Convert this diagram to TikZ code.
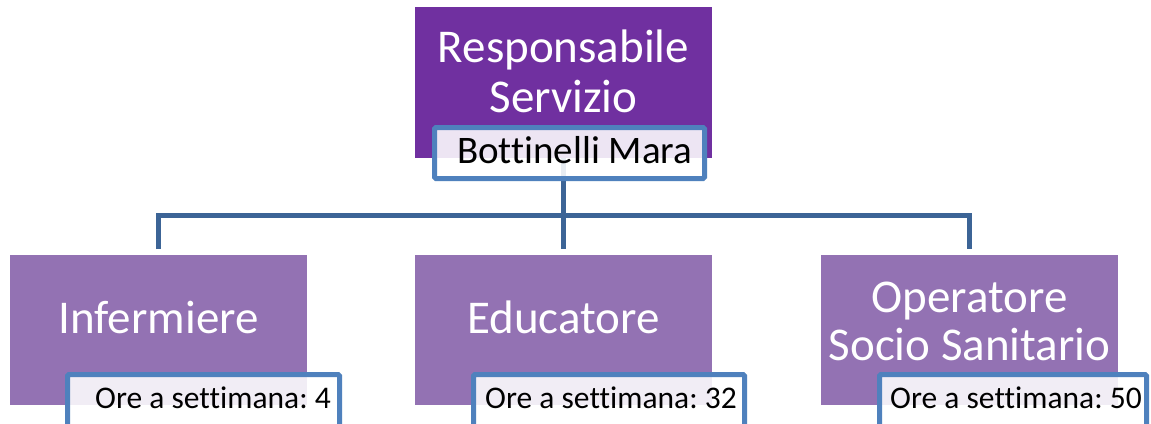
\documentclass[tikz,border=0pt]{standalone}
\usepackage{fontspec}
\setmainfont{Carlito}[Ligatures=NoCommon]
\frenchspacing
\definecolor{topP}{RGB}{112,48,160}
\definecolor{botP}{RGB}{147,114,179}
\definecolor{brd}{RGB}{79,129,189}
\definecolor{connc}{RGB}{60,100,150}
\begin{document}
\begin{tikzpicture}[x=1pt,y=-1pt,
  rolebox/.style={draw=none, inner sep=0pt, outer sep=0pt, minimum width=297pt},
  namebox/.style={draw=brd, line width=5pt, fill=white, fill opacity=0.88, draw opacity=1,
    rounded corners=1.5pt, inner sep=0pt, outer sep=0pt},
  roletext/.style={text=white, inner sep=0pt, anchor=base, font=\fontsize{47}{50}\selectfont},
  nametext/.style={text=black, inner sep=0pt, anchor=base west},
  connline/.style={draw=connc, line width=5pt, line join=miter}
]
\useasboundingbox (0,0) rectangle (1151,423);
\clip (0,0) rectangle (1151,423);
\fill[white] (0,0) rectangle (1151,423);

% role boxes
\node[rolebox, fill=topP, minimum height=151pt] (resp) at (563.5,82.5) {};
\node[rolebox, fill=botP, minimum height=150pt] (inf) at (158.5,330) {};
\node[rolebox, fill=botP, minimum height=150pt] (edu) at (563.5,330) {};
\node[rolebox, fill=botP, minimum height=150pt] (oss) at (969.5,330) {};

% connectors
\coordinate (bus) at (563.5,215.5);
\draw[connline, shorten >=6pt] (resp.south) -- (edu.north);
\draw[connline, shorten <=6pt, shorten >=6pt] (inf.north) |- (bus) -| (oss.north);

% name boxes
\node[namebox, minimum width=270pt, minimum height=51pt] (bot) at (569.5,153) {};
\node[namebox, minimum width=272pt, minimum height=100pt] (oinf) at (203.5,424.5) {};
\node[namebox, minimum width=271pt, minimum height=100pt] (oedu) at (609,424.5) {};
\node[namebox, minimum width=267pt, minimum height=100pt] (ooss) at (1013,424.5) {};

% texts
\node[roletext] (t1) at (563.5,62) {Responsabile};
\node[roletext] (t2) at (563.5,112) {Servizio};
\node[roletext] (t3) at (158.5,333) {Infermiere};
\node[roletext] (t4) at (563.5,333) {Educatore};
\node[roletext] (t5) at (969.5,312) {Operatore};
\node[roletext] (t6) at (969.5,360) {Socio Sanitario};

\node[nametext, font=\fontsize{39}{42}\selectfont] (n1) at (457,163) {Bottinelli Mara};
\node[nametext, font=\fontsize{31.5}{34}\selectfont] (n2) at (95,408) {Ore a settimana: 4};
\node[nametext, font=\fontsize{31.5}{34}\selectfont] (n3) at (485,408) {Ore a settimana: 32};
\node[nametext, font=\fontsize{31.5}{34}\selectfont] (n4) at (890,408) {Ore a settimana: 50};
\end{tikzpicture}
\end{document}
